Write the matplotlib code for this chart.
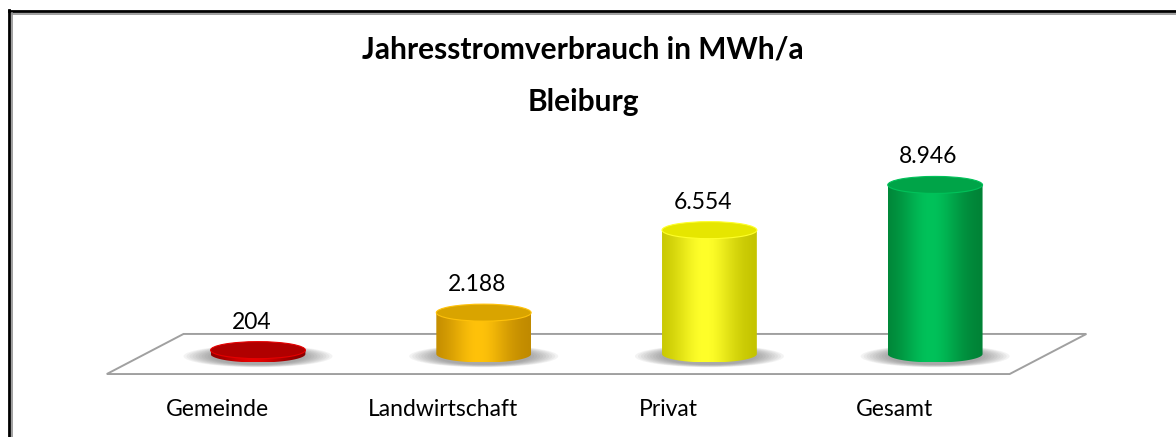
import numpy as np
import matplotlib.pyplot as plt
from matplotlib.patches import Ellipse, Polygon, PathPatch
from matplotlib.path import Path
from matplotlib.lines import Line2D
from matplotlib.colors import to_rgb

categories = ['Gemeinde', 'Landwirtschaft', 'Privat', 'Gesamt']
values = [204, 2188, 6554, 8946]
title1 = 'Jahresstromverbrauch in MWh/a'
title2 = 'Bleiburg'

# (dark, light, top) per cylinder
colors = [
    ('#8a0000', '#e60000', '#b00000'),
    ('#c08a00', '#ffc20a', '#d9a400'),
    ('#c4c400', '#ffff2a', '#e6e600'),
    ('#008236', '#00c25a', '#00a448'),
]

plt.rcParams['font.family'] = ['Lato', 'DejaVu Sans']

fig = plt.figure(figsize=(11.76, 4.37), dpi=100)
ax = fig.add_axes([0, 0, 1, 1])
ax.axis('off')

w = 0.42      # cylinder width in category units
eh = 900      # ellipse height in value units

# floor (parallelogram)
floor = Polygon([(-0.67, -1060), (3.33, -1060), (3.67, 1060), (-0.33, 1060)],
                closed=True, facecolor='white', edgecolor='#a0a0a0', lw=1.4, zorder=1)
ax.add_patch(floor)

def gradient(dark, light, n=200):
    d = np.array(to_rgb(dark))
    l = np.array(to_rgb(light))
    t = np.linspace(0, 1, n)
    # bright band a little left of centre, darker edges
    k = np.exp(-((t - 0.45) / 0.32) ** 2)
    k = (k - k.min()) / (k.max() - k.min())
    return (d[None, :] * (1 - k[:, None]) + l[None, :] * k[:, None])[None, :, :]

for i, (v, (dark, light, top)) in enumerate(zip(values, colors)):
    # soft shadow
    for s in np.linspace(0, 1, 10):
        ax.add_patch(Ellipse((i, -120), w + 0.24 * (1 - s), eh + 260 * (1 - s),
                             facecolor='#606060', edgecolor='none', alpha=0.07, zorder=2))
    # body path: bottom half-ellipse + rectangle up to value
    t = np.linspace(np.pi, 2 * np.pi, 60)
    xs = i + w / 2 * np.cos(t)
    ys = eh / 2 * np.sin(t)
    verts = list(zip(xs, ys)) + [(i + w / 2, v), (i - w / 2, v), (xs[0], ys[0])]
    codes = [Path.MOVETO] + [Path.LINETO] * (len(verts) - 2) + [Path.CLOSEPOLY]
    body = PathPatch(Path(verts, codes), facecolor='none', edgecolor='none', zorder=3)
    ax.add_patch(body)
    im = ax.imshow(gradient(dark, light), extent=[i - w / 2, i + w / 2, -eh / 2, v],
                   aspect='auto', zorder=3, interpolation='bilinear')
    im.set_clip_path(body)
    # top ellipse
    ax.add_patch(Ellipse((i, v), w, eh, facecolor=top, edgecolor=light, lw=0.8, zorder=4))
    # value label
    lab = f'{v:,}'.replace(',', '.')
    ax.text(i - 0.03, v + 1480, lab, ha='center', va='center', fontsize=16.5, zorder=5)
    # category label
    ax.text(i - 0.18, -2960, categories[i], ha='center', va='center', fontsize=16.5, zorder=5)

ax.set_xlim(-1.143, 4.067)
ax.set_ylim(-4392, 18730)

fig.text(0.496, 1 - 49 / 437, title1, ha='center', va='center', fontsize=21.5, fontweight='bold')
fig.text(0.496, 1 - 102 / 437, title2, ha='center', va='center', fontsize=21.5, fontweight='bold')

# frame lines (top and left)
fig.add_artist(Line2D([9 / 1176, 1], [1 - 11 / 437] * 2, color='black', lw=2.0, transform=fig.transFigure))
fig.add_artist(Line2D([12 / 1176, 1], [1 - 13.5 / 437] * 2, color='#909090', lw=1.2, transform=fig.transFigure))
fig.add_artist(Line2D([9 / 1176] * 2, [0, 1 - 10 / 437], color='black', lw=2.0, transform=fig.transFigure))
fig.add_artist(Line2D([12 / 1176] * 2, [0, 1 - 13 / 437], color='#909090', lw=1.2, transform=fig.transFigure))

fig.savefig('out.png', dpi=100, facecolor='white')
